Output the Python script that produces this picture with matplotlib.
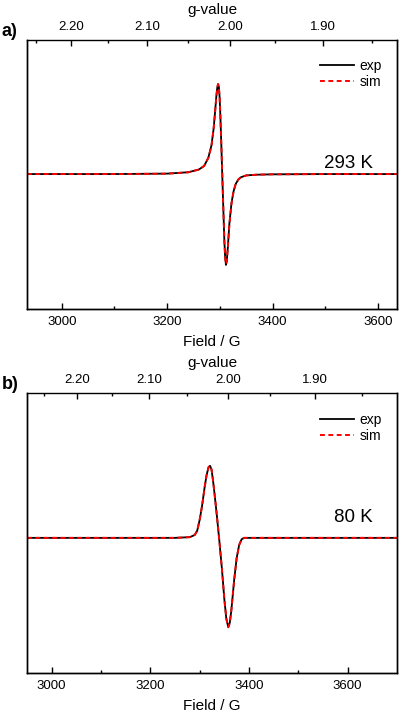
import matplotlib.pyplot as plt
from matplotlib.ticker import FixedLocator, NullFormatter

plt.rcParams['font.family'] = ['Liberation Sans', 'DejaVu Sans']

# panel a) 293 K
field_a = [2934, 3100, 3200, 3240, 3260, 3270, 3278, 3284, 3288, 3291, 3293,
           3295, 3296.5, 3298, 3299.5, 3301, 3302.5, 3304, 3305.5, 3307, 3308.5,
           3310, 3311.5, 3313, 3315, 3318, 3322, 3326, 3330, 3335, 3340, 3350,
           3370, 3400, 3500, 3636]
exp_a = [0.0, 0.0, 0.005, 0.02, 0.05, 0.09, 0.18, 0.32, 0.5, 0.7, 0.85,
         0.96, 1.0, 0.97, 0.85, 0.63, 0.36, 0.08, -0.2, -0.48, -0.75,
         -0.93, -1.01, -0.97, -0.82, -0.55, -0.32, -0.19, -0.11, -0.06, -0.035, -0.015,
         -0.007, -0.003, 0.0, 0.0]
sim_a = [0.0, 0.0, 0.004, 0.02, 0.05, 0.09, 0.18, 0.31, 0.5, 0.7, 0.85,
         0.96, 1.0, 0.97, 0.85, 0.63, 0.36, 0.08, -0.2, -0.48, -0.75,
         -0.93, -1.0, -0.97, -0.82, -0.56, -0.33, -0.19, -0.11, -0.06, -0.035, -0.015,
         -0.007, -0.003, 0.0, 0.0]

# panel b) 80 K
field_b = [2950, 3250, 3280, 3290, 3295, 3300, 3305, 3310, 3314, 3318, 3321,
           3324, 3327, 3330, 3335, 3340, 3345, 3350, 3354, 3358, 3361, 3364,
           3367, 3370, 3375, 3380, 3385, 3390, 3700]
exp_b = [0.0, 0.0, 0.01, 0.04, 0.1, 0.25, 0.45, 0.7, 0.87, 0.98, 1.0,
         0.95, 0.8, 0.62, 0.3, -0.05, -0.42, -0.85, -1.12, -1.24, -1.18, -1.02,
         -0.8, -0.58, -0.28, -0.1, -0.02, 0.0, 0.0]
sim_b = [0.0, 0.0, 0.01, 0.04, 0.1, 0.25, 0.45, 0.7, 0.87, 0.98, 1.0,
         0.95, 0.8, 0.62, 0.3, -0.05, -0.42, -0.85, -1.12, -1.24, -1.18, -1.02,
         -0.8, -0.58, -0.28, -0.1, -0.02, 0.0, 0.0]

field_ticks = [3000, 3200, 3400, 3600]
field_minor = [3100, 3300, 3500]
g_ticks = [2.20, 2.10, 2.00, 1.90]
g_minor = [2.25, 2.15, 2.05, 1.95, 1.85]

# g * B = const (G), for the two microwave frequencies
gB_a = 6640.0
gB_b = 6714.0


def panel(rect, field, exp, sim, xlim, ylim, gB, temp, letter, temp_y):
    ax = fig.add_axes(rect)
    ax.plot(field, exp, color='black', lw=1.3, label='exp')
    ax.plot(field, sim, color='red', lw=1.4, ls=(0, (2.5, 1.8)), label='sim')
    ax.set_xlim(xlim)
    ax.set_ylim(ylim)
    ax.set_yticks([])
    ax.set_xticks(field_ticks)
    ax.xaxis.set_minor_locator(FixedLocator(field_minor))
    ax.tick_params(axis='x', which='major', direction='in', length=4, width=1,
                   labelsize=9.5, pad=5)
    ax.tick_params(axis='x', which='minor', direction='in', length=2.5, width=1)
    ax.set_xlabel('Field / G', fontsize=11, labelpad=5)
    for s in ax.spines.values():
        s.set_linewidth(1.0)
    ax.spines['top'].set_visible(False)

    top = ax.twiny()
    top.set_xlim(xlim)
    top.set_xticks([gB / g for g in g_ticks])
    top.set_xticklabels(['%.2f' % g for g in g_ticks])
    top.xaxis.set_minor_locator(FixedLocator([gB / g for g in g_minor]))
    top.xaxis.set_minor_formatter(NullFormatter())
    top.tick_params(axis='x', which='major', direction='in', length=4, width=1,
                    labelsize=9.5, pad=5)
    top.tick_params(axis='x', which='minor', direction='in', length=2.5, width=1)
    top.set_xlabel('g-value', fontsize=11, labelpad=5)
    for s in top.spines.values():
        s.set_linewidth(1.0)

    ax.legend(loc='upper right', frameon=False, fontsize=10, handlelength=2.4,
              handletextpad=0.4, labelspacing=0.15, borderaxespad=0.3,
              bbox_to_anchor=(0.985, 0.965))
    ax.text(0.935, temp_y, temp, transform=ax.transAxes, ha='right',
            va='bottom', fontsize=13.5)
    fig.text(0.005, rect[1] + rect[3] + 0.012, letter, fontsize=13,
             fontweight='bold', ha='left', va='center')
    return ax


fig = plt.figure(figsize=(4.0, 7.13), dpi=100)

panel([0.0675, 0.5666, 0.925, 0.3773], field_a, exp_a, sim_a, (2934, 3636),
      (-1.5, 1.49), gB_a, '293 K', 'a)', 0.51)
panel([0.0675, 0.0561, 0.925, 0.3927], field_b, exp_b, sim_b, (2950, 3700),
      (-1.875, 2.01), gB_b, '80 K', 'b)', 0.525)

fig.savefig('out.png', dpi=100)
